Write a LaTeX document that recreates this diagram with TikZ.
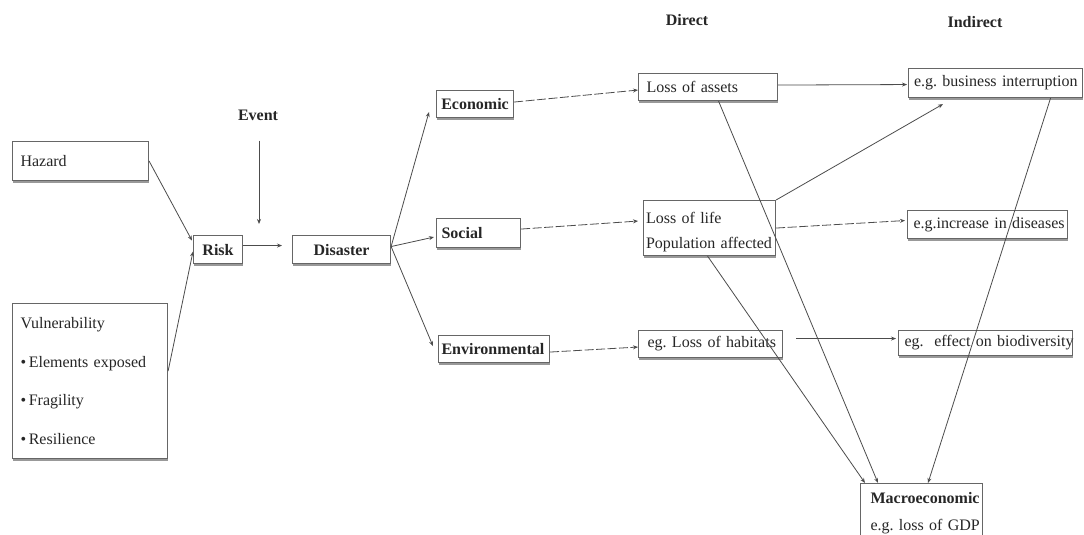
\documentclass[tikz,border=0pt]{standalone}
\usepackage{fontspec}
\setmainfont{Liberation Serif}
\usetikzlibrary{arrows.meta,calc,shadows}
\newcommand{\nohyph}{\hyphenpenalty=10000\exhyphenpenalty=10000\lefthyphenmin=64\righthyphenmin=64}
\begin{document}
\begin{tikzpicture}[x=1bp,y=-1bp,
  box/.style={draw=black!60, line width=1.1bp, fill=white, anchor=north west,
    inner ysep=0pt, text=black!85, align=left,
    font=\fontsize{16bp}{20bp}\selectfont\nohyph,
    drop shadow={shadow xshift=0bp, shadow yshift=-2.2bp, fill=black!40, opacity=1}},
  bbox/.style={box, font=\fontsize{16bp}{20bp}\selectfont\bfseries\nohyph},
  lbl/.style={font=\fontsize{16bp}{20bp}\selectfont\bfseries, text=black!85, inner sep=0pt},
  arr/.style={draw=black!70, line width=0.8bp, -{Stealth[length=5bp,width=4bp]}},
  dsh/.style={arr, dash pattern=on 9bp off 2.5bp}
]
\useasboundingbox (0,0) rectangle (1084,535);
\clip (0,0) rectangle (1084,535);
\fill[white] (0,0) rectangle (1084,535);

% left column
\node[box, inner xsep=8bp, text width=120bp, minimum height=39bp] (hazard) at (12,141) {Hazard};
\node[box, inner xsep=8bp, text width=139bp, minimum height=155bp,
      font=\fontsize{16bp}{38.5bp}\selectfont\nohyph] (vuln) at (12,303)
  {Vulnerability\\ •\,Elements~exposed\\ •\,Fragility\\ •\,Resilience};

\node[bbox, align=center, inner xsep=2bp, text width=45bp, minimum height=28bp] (risk) at (193,235) {Risk};
\node[bbox, align=center, inner xsep=2bp, text width=94bp, minimum height=28bp] (disaster) at (292,235) {Disaster};

\node[lbl] (event) at (258,115) {Event};
\coordinate (evtip) at (259,224);

% categories
\node[bbox, align=center, inner xsep=2bp, text width=73bp, minimum height=27bp] (econ) at (436,90) {Economic};
\node[bbox, inner xsep=5bp, text width=74bp, minimum height=29bp] (social) at (436,218) {Social};
\node[bbox, inner xsep=3bp, text width=105bp, minimum height=27bp] (env) at (438,335) {Environmental};

% direct
\node[lbl] (direct) at (687,20) {Direct};
\node[box, inner xsep=8bp, text width=123bp, minimum height=27bp] (lassets) at (638,73) {Loss~of~assets};
\node[box, inner xsep=2.5bp, text width=127bp, minimum height=55bp,
      font=\fontsize{16bp}{25bp}\selectfont\nohyph] (llife) at (643,200)
  {\rule{0pt}{19bp}Loss~of~life\\ Population~affected};
\node[box, inner xsep=9bp, text width=126bp, minimum height=27bp] (lhab) at (638,330) {eg.~Loss~of~habitats};

% indirect
\node[lbl] (indirect) at (975,22) {Indirect};
\node[box, inner xsep=5.5bp, text width=163bp, minimum height=29bp] (bint) at (908,68) {e.g.~business~interruption};
\node[box, inner xsep=6bp, text width=148bp, minimum height=28bp] (dis) at (907,210) {e.g.increase~in~diseases};
\node[box, inner xsep=6bp, text width=162bp, minimum height=25bp] (bio) at (898,330) {eg.~~effect~on~biodiversity};

% macro
\node[box, inner xsep=10bp, inner ysep=9bp, text width=102bp,
      font=\fontsize{16bp}{27bp}\selectfont\nohyph] (macro) at (860,483)
  {\textbf{Macroeconomic}\\ e.g.~loss~of~GDP};

% connectors
\draw[arr] (hazard.east) -- ($(risk.west)+(-1,-9)$);
\draw[arr] ($(vuln.east)+(0,-10)$) -- ($(risk.west)+(0,2)$);
\draw[arr] ($(event.south)+(1,20)$) -- (evtip);
\draw[arr] ($(risk.east)+(0,-4)$) -- ($(disaster.west)+(-10,-4)$);

\draw[arr] ($(disaster.east)+(0,-3)$) -- ($(econ.west)+(-7,8)$);
\draw[arr] ($(disaster.east)+(0,-3)$) -- ($(social.west)+(-2,4)$);
\draw[arr] ($(disaster.east)+(0,-3)$) -- ($(env.west)+(-5,-3)$);

\draw[dsh] ($(econ.east)+(0,-2)$) -- ($(lassets.west)+(0,3)$);
\draw[dsh] ($(social.east)+(0,-4)$) -- ($(llife.west)+(-5,-7)$);
\draw[dsh] ($(env.east)+(0,3)$) -- ($(lhab.west)+(0,3)$);

\draw[arr] ($(lassets.east)+(0,-2)$) -- ($(bint.west)+(-1,1.5)$);
\draw[arr] (llife.north east) -- ($(bint.south west)+(35,6)$);
\draw[dsh] (llife.east) -- ($(dis.west)+(-2,-4)$);
\draw[arr] ($(lhab.east)+(13,-5.5)$) -- ($(bio.west)+(-2,-4.5)$);

\draw[arr] ($(lassets.south)+(10.5,0)$) -- ($(macro.north west)+(18,0)$);
\draw[arr] ($(llife.south)+(-2,0)$) -- ($(macro.north west)+(5,0)$);
\draw[arr] ($(bint.south)+(55,0)$) -- ($(macro.north west)+(68,0)$);
\end{tikzpicture}
\end{document}
